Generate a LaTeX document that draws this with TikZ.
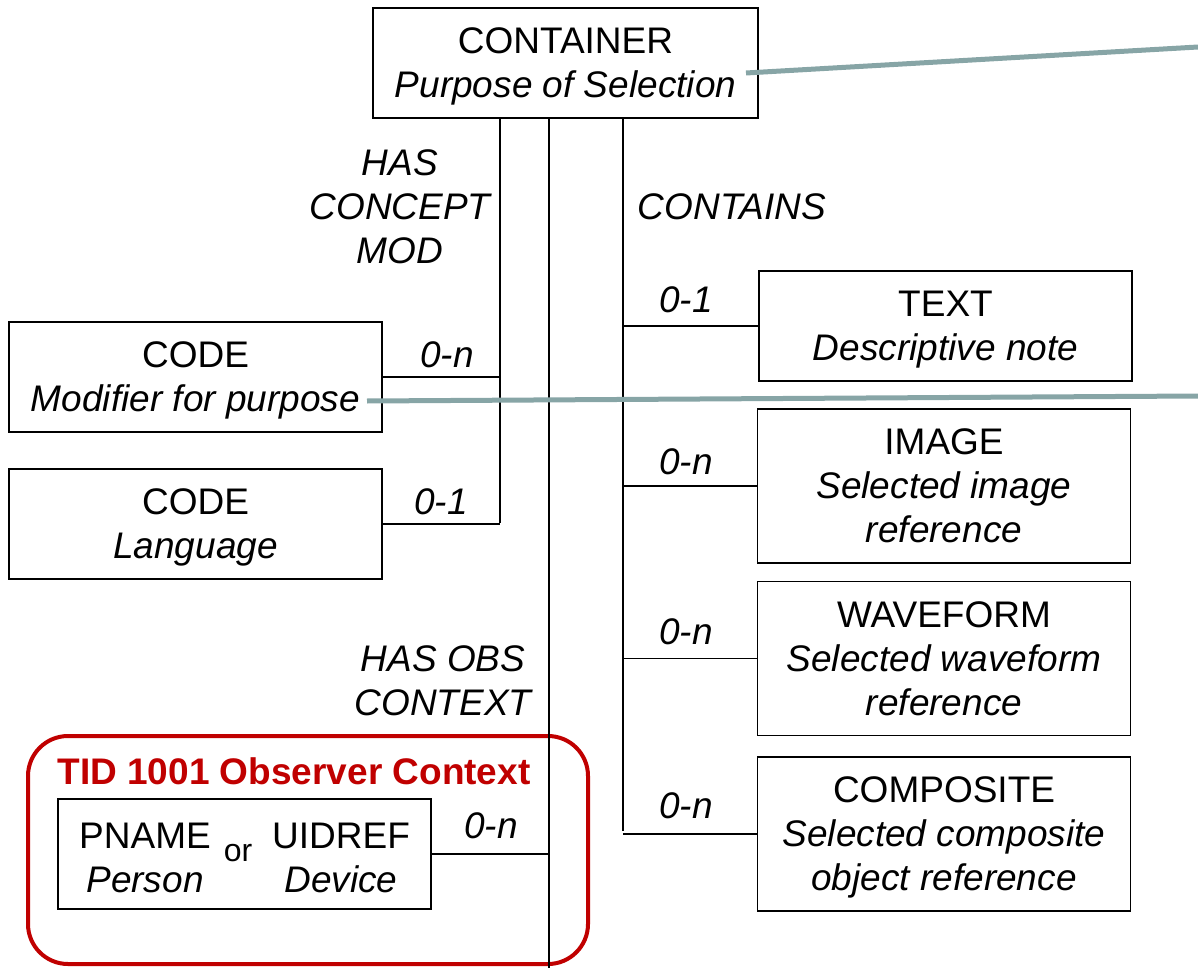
\documentclass[tikz,border=0pt]{standalone}
\usepackage{fontspec}
\setmainfont{Liberation Sans}
\usetikzlibrary{positioning}
\definecolor{ptrgray}{RGB}{135,165,166}
\definecolor{tidred}{RGB}{192,0,0}
\tikzset{%
  % Specifications for style of nodes:
     base/.style = {rectangle, draw=black, line width=1.5pt, align=center,
                    inner sep=0pt, text depth=0pt,
                    font=\fontsize{37}{44}\selectfont},
    entry/.style = {base, minimum width=373pt, minimum height=110pt},
     tall/.style = {entry, minimum height=154pt},
  relname/.style = {align=center, inner sep=0pt,
                    font=\itshape\fontsize{37}{44}\selectfont},
     card/.style = {relname},
     link/.style = {line width=1.5pt},
  pointer/.style = {line width=5pt, draw=ptrgray},
}
\begin{document}
\begin{tikzpicture}[x=1pt, y=-1pt]
  \useasboundingbox (0,0) rectangle (1198,968);
  % Specification of nodes (position, etc.)
  \node (container) [base, minimum width=385pt, minimum height=110pt] at (565.5,63)
        {CONTAINER\\\textit{Purpose of Selection}};
  \node (codeMod)   [entry] at (195.5,377) {CODE\\\textit{Modifier for purpose}};
  \node (codeLang)  [entry] at (195.5,524) {CODE\\\textit{Language}};
  \node (text)      [entry] at (945.5,326) {TEXT\\\textit{Descriptive note}};
  \node (image)     [tall]  at (944,486)   {IMAGE\\\textit{Selected image}\\\textit{reference}};
  \node (waveform)  [tall, below=17pt of image]
        {WAVEFORM\\\textit{Selected waveform}\\\textit{reference}};
  \node (composite) [tall, below=20pt of waveform]
        {COMPOSITE\\\textit{Selected composite}\\\textit{object reference}};
  % observer context group
  \node (obsGroup) [draw=tidred, line width=4pt, rounded corners=40pt,
        minimum width=560pt, minimum height=228pt] at (308,850) {};
  \node (obsTitle) [font=\bfseries\fontsize{37}{44}\selectfont, text=tidred,
        inner sep=0pt] at (294,771) {TID 1001 Observer Context};
  \node (obsBox) [entry] at (244.5,854) {};
  \node (pname)  [base, draw=none] at (145,858) {PNAME\\\textit{Person}};
  \node (orWord) [font=\fontsize{32}{36}\selectfont, inner sep=0pt] at (238,853) {or};
  \node (uidref) [base, draw=none] at (341,858) {UIDREF\\\textit{Device}};
  % relationship names
  \node (hasMod)   [relname] at (400,207) {HAS\\CONCEPT\\MOD};
  \node (contains) [relname] at (732,207) {CONTAINS};
  \node (hasObs)   [relname] at (443,681) {HAS OBS\\CONTEXT};
  % trunks
  \coordinate (modFoot)      at (500,523);
  \coordinate (obsFoot)      at (549,968);
  \coordinate (containsFoot) at (623,831);
  \draw[link] (container.south -| modFoot) -- (modFoot);
  \draw[link] (container.south -| obsFoot) -- (obsFoot);
  \draw[link] (container.south -| containsFoot) -- (containsFoot);
  % branches with cardinalities
  \draw[link] (codeMod.east) -- (codeMod.east -| modFoot);
  \node (cardMod) [card] at (447,355) {0-n};
  \draw[link] (codeLang.east) -- (codeLang.east -| modFoot);
  \node (cardLang) [card] at (441,502) {0-1};
  \draw[link] (text.west) -- (text.west -| containsFoot);
  \node (cardText) [card] at (686,300) {0-1};
  \draw[link] (image.west) -- (image.west -| containsFoot);
  \node (cardImage) [card] at (686,462) {0-n};
  \draw[link] (waveform.west) -- (waveform.west -| containsFoot);
  \node (cardWave) [card] at (686,632) {0-n};
  \draw[link] (composite.west) -- (composite.west -| containsFoot);
  \node (cardComp) [card] at (686,806) {0-n};
  \draw[link] (obsBox.east) -- (obsBox.east -| obsFoot);
  \node (cardObs) [card] at (491,826) {0-n};
  % gray pointers leaving the picture
  \coordinate (purposeTip) at (746,73);
  \coordinate (purposeOut) at (1198,47);
  \coordinate (modifierTip) at (367,401);
  \coordinate (modifierOut) at (1198,396);
  \draw[pointer] (purposeTip) -- (purposeOut);
  \draw[pointer] (modifierTip) -- (modifierOut);
\end{tikzpicture}
\end{document}
